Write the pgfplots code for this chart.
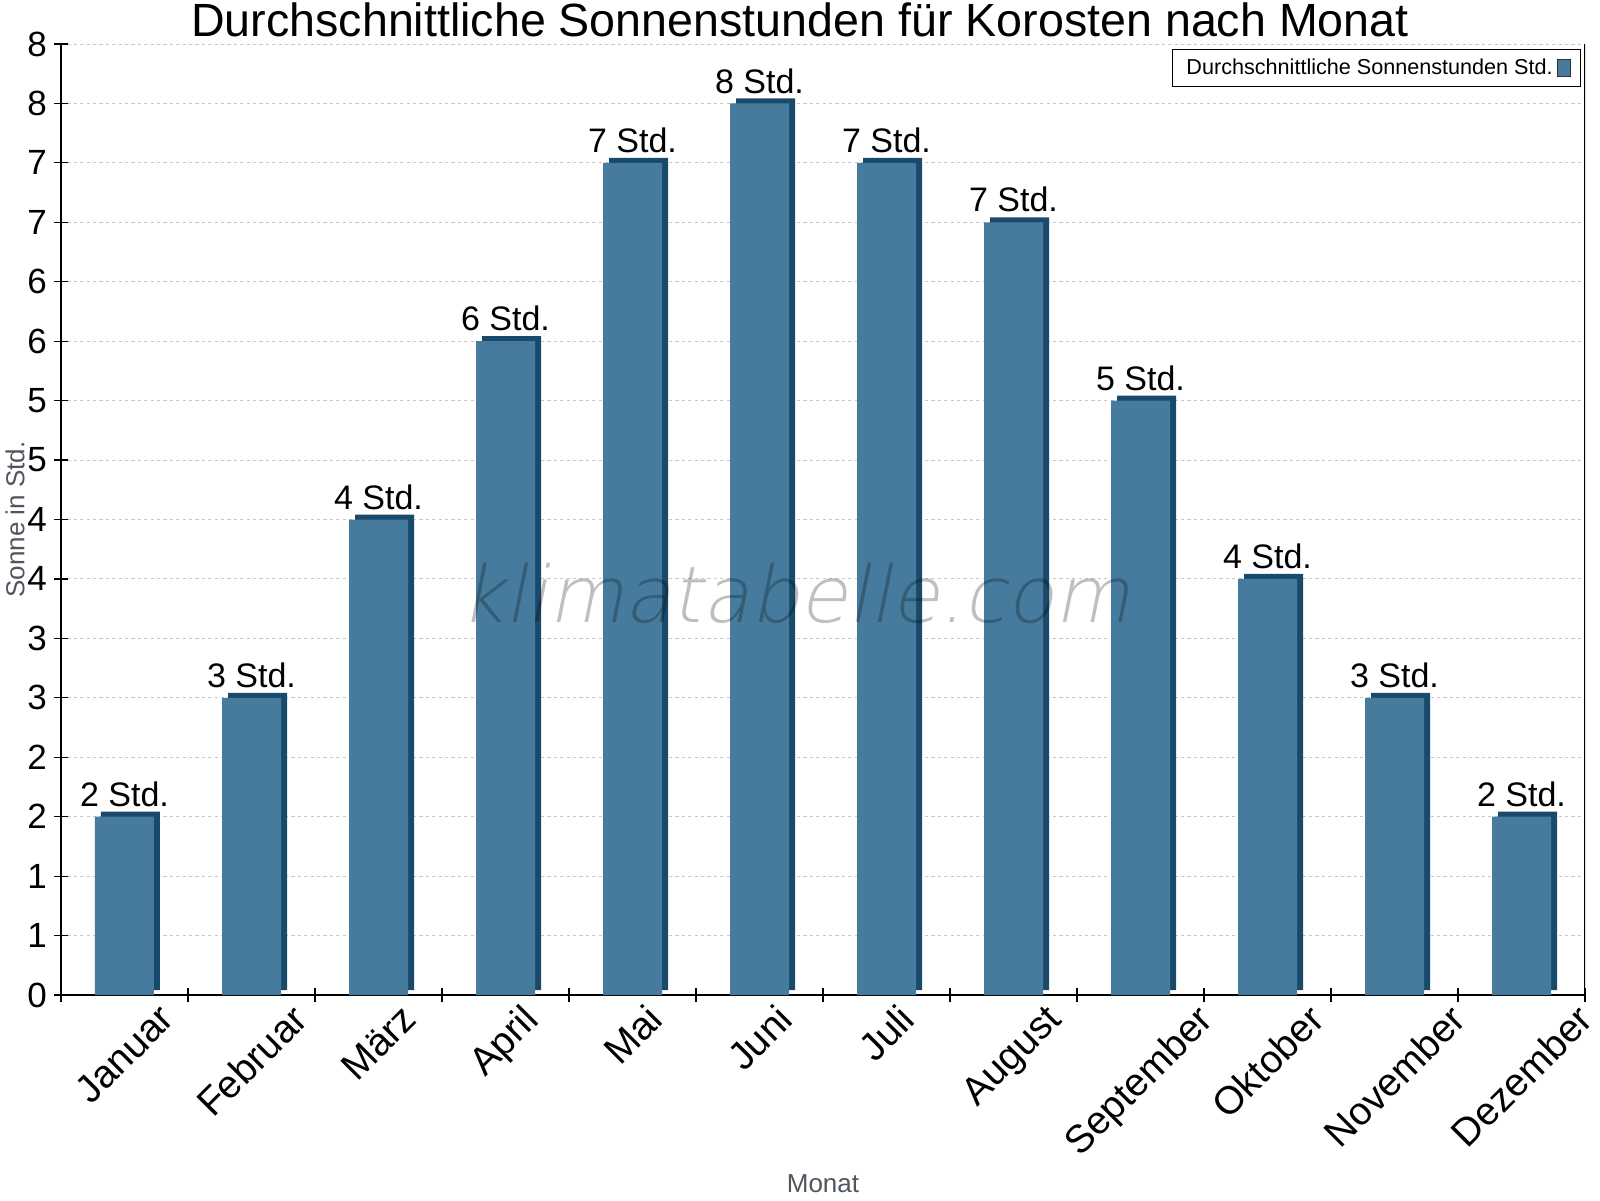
\documentclass[border=0pt]{standalone}
\usepackage{fontspec}
\setmainfont{Liberation Sans}
\newfontfamily\wmfont{DejaVu Sans ExtraLight}[FakeSlant=0.2]
\usepackage{graphicx}
\usepackage{pgfplots}
\pgfplotsset{compat=1.18}
\definecolor{barfront}{RGB}{70,123,157}
\definecolor{barside}{RGB}{25,74,107}
\definecolor{labgray}{RGB}{78,86,95}
\definecolor{gridgray}{RGB}{200,200,200}
\begin{document}
\begin{tikzpicture}
\useasboundingbox (-30.5pt,-102.5pt) rectangle (769.5pt,497.5pt);
\begin{axis}[
  at={(0,0)}, anchor=south west,
  scale only axis, width=762pt, height=475.5pt,
  xmin=-0.5, xmax=11.5, ymin=0, ymax=8,
  enlargelimits=false,
  axis x line*=bottom, axis y line*=left,
  axis line style={line width=0.7pt, black},
  tick align=center,
  major tick length=7pt,
  tick style={black, line width=0.6pt},
  /pgf/number format/assume math mode=true,
  ytick={0,0.5,1,1.5,2,2.5,3,3.5,4,4.5,5,5.5,6,6.5,7,7.5,8},
  yticklabels={0,1,1,2,2,3,3,4,4,5,5,6,6,7,7,8,8},
  yticklabel style={font=\fontsize{17.5}{19}\selectfont, xshift=0pt},
  xtick={-0.5,0.5,1.5,2.5,3.5,4.5,5.5,6.5,7.5,8.5,9.5,10.5,11.5},
  xticklabels={\rotatebox{45}{Januar},\rotatebox{45}{Februar},\rotatebox{45}{März},\rotatebox{45}{April},\rotatebox{45}{Mai},\rotatebox{45}{Juni},\rotatebox{45}{Juli},\rotatebox{45}{August},\rotatebox{45}{September},\rotatebox{45}{Oktober},\rotatebox{45}{November},\rotatebox{45}{Dezember},{}},
  xticklabel style={font=\fontsize{19.5}{21}\selectfont, anchor=north, inner sep=0pt, xshift=31.75pt, yshift=0pt},
  ymajorgrids,
  grid style={dash pattern=on 1.6pt off 1.6pt, gridgray, line width=0.5pt},
  title={Durchschnittliche Sonnenstunden für Korosten nach Monat},
  every axis title/.style={at={(rel axis cs:0.5,1)}, anchor=base, xshift=-11.5pt, yshift=4pt, font=\fontsize{23.3}{26}\selectfont},
  xlabel={Monat},
  every axis x label/.style={at={(rel axis cs:0.5,0)}, anchor=center, yshift=-94.5pt, font=\fontsize{13}{15}\selectfont, text=labgray},
  ylabel={Sonne in Std.},
  every axis y label/.style={at={(rel axis cs:0,0.5)}, xshift=-23pt, rotate=90, anchor=center, font=\fontsize{13}{15}\selectfont, text=labgray},
  legend style={at={(rel axis cs:1,1)}, anchor=north east, xshift=-2pt, yshift=-2.5pt, draw=black, line width=0.5pt, font=\fontsize{10.8}{13}\selectfont, inner xsep=5pt, inner ysep=2.5pt},
  legend plot pos=right,
  legend cell align=left,
]
\addplot[ybar, bar width=29.5pt, bar shift=0pt, fill=barside, draw=none, xshift=3pt, yshift=2.5pt, forget plot]
  coordinates {(0,1.5) (1,2.5) (2,4.0) (3,5.5) (4,7.0) (5,7.5) (6,7.0) (7,6.5) (8,5.0) (9,3.5) (10,2.5) (11,1.5)};
\addplot[ybar, bar width=29.5pt, bar shift=0pt, fill=barfront, draw=none,
  nodes near coords, point meta=explicit symbolic,
  every node near coord/.append style={font=\fontsize{17}{19}\selectfont, text=black, anchor=south, yshift=1.5pt},
  legend image code/.code={\draw[fill=barfront, draw=black!80, line width=0.4pt] (0pt,-4.25pt) rectangle (6.5pt,4.25pt);}]
  table[x=x, y=y, meta=label, col sep=comma] {
x,y,label
0,1.5,2 Std.
1,2.5,3 Std.
2,4.0,4 Std.
3,5.5,6 Std.
4,7.0,7 Std.
5,7.5,8 Std.
6,7.0,7 Std.
7,6.5,7 Std.
8,5.0,5 Std.
9,3.5,4 Std.
10,2.5,3 Std.
11,1.5,2 Std.
};
\addlegendentry{Durchschnittliche Sonnenstunden Std.}
\node[anchor=base, font=\wmfont\fontsize{39}{43}\selectfont, text=black, text opacity=0.25, inner sep=0pt] at (axis cs:5.28,3.13) {klimatabelle.com};
\draw[line width=0.7pt] (rel axis cs:1,0) -- (rel axis cs:1,1);
\end{axis}
\end{tikzpicture}
\end{document}
